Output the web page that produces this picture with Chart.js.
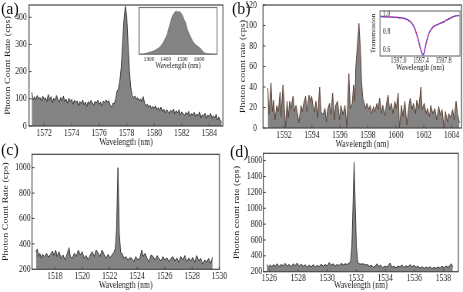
<!DOCTYPE html>
<html>
<head>
<meta charset="utf-8">
<script src="https://cdn.jsdelivr.net/npm/chart.js@4.4.1/dist/chart.umd.min.js"></script>
<style>
  html, body { margin: 0; padding: 0; background: #fff; }
  #page { position: relative; width: 463px; height: 292px; overflow: hidden; }
  canvas { position: absolute; transform-origin: 0 0; }
  .tag { position: absolute; font: 16px "Liberation Serif", serif; color: #111; line-height: 16px; }
</style>
</head>
<body>
<div id="page">
  <canvas id="chartA"></canvas>
  <canvas id="chartB"></canvas>
  <canvas id="chartC"></canvas>
  <canvas id="chartD"></canvas>
  <canvas id="insetA"></canvas>
  <canvas id="insetB"></canvas>
  <div class="tag" style="left:1px;top:1px">(a)</div>
  <div class="tag" style="left:232px;top:1px">(b)</div>
  <div class="tag" style="left:1px;top:142px">(c)</div>
  <div class="tag" style="left:230px;top:144px">(d)</div>
</div>
<script>
// ---- (a) spectrum near 1578 nm
var waveA = [
  1571.1,1571.2,1571.3,1571.4,1571.5,1571.6,1571.7,1571.8,1571.9,1572.0,
  1572.1,1572.2,1572.3,1572.4,1572.5,1572.6,1572.7,1572.8,1572.9,1573.0,
  1573.1,1573.2,1573.3,1573.4,1573.5,1573.6,1573.7,1573.8,1573.9,1574.0,
  1574.1,1574.2,1574.3,1574.4,1574.5,1574.6,1574.7,1574.8,1574.9,1575.0,
  1575.1,1575.2,1575.3,1575.4,1575.5,1575.6,1575.7,1575.8,1575.9,1576.0,
  1576.1,1576.2,1576.3,1576.4,1576.5,1576.6,1576.7,1576.8,1576.9,1577.0,
  1577.1,1577.2,1577.3,1577.4,1577.5,1577.6,1577.7,1577.8,1577.9,1578.0,
  1578.1,1578.2,1578.3,1578.4,1578.5,1578.6,1578.7,1578.8,1578.9,1579.0,
  1579.1,1579.2,1579.3,1579.4,1579.5,1579.6,1579.7,1579.8,1579.9,1580.0,
  1580.1,1580.2,1580.3,1580.4,1580.5,1580.6,1580.7,1580.8,1580.9,1581.0,
  1581.1,1581.2,1581.3,1581.4,1581.5,1581.6,1581.7,1581.8,1581.9,1582.0,
  1582.1,1582.2,1582.3,1582.4,1582.5,1582.6,1582.7,1582.8,1582.9,1583.0,
  1583.1,1583.2,1583.3,1583.4,1583.5,1583.6,1583.7,1583.8,1583.9,1584.0,
  1584.1,1584.2,1584.3,1584.4,1584.5,1584.6,1584.7,1584.8,1584.9
];
var countA = [
  124,95,108,96,112,99,105,92,110,98,
  104,90,116,95,108,86,102,94,112,97,
  88,105,92,110,89,99,84,103,91,98,
  80,95,87,92,75,90,82,96,78,88,
  72,90,80,94,86,76,91,84,95,79,
  88,74,92,85,96,88,93,76,70,84,
  82,100,128,138,165,215,300,390,440,405,
  300,200,140,112,105,110,98,104,92,100,
  90,108,84,74,80,70,76,64,72,66,
  74,60,68,56,70,52,62,48,60,54,
  46,58,50,62,44,56,48,60,42,52,
  46,38,50,42,54,36,46,40,50,34,
  44,38,52,30,42,36,48,28,40,34,
  46,26,38,30,44,22,34,20,14
];
var ticksA = [1572, 1574, 1576, 1578, 1580, 1582, 1584];
var yTicksA = [0, 100, 200, 300, 400];

// inset of (a): broad pump spectrum
var waveInA = [1240,1270,1300,1330,1360,1380,1400,1410,1420,1430,1440,1450,1460,1465,1472,1480,1490,1500,
  1510,1520,1530,1540,1550,1560,1570,1580,1590,1600,1610,1620,1630,1640,1660,1708];
var levelInA = [0,0.01,0.04,0.08,0.15,0.24,0.38,0.48,0.62,0.76,0.88,0.95,0.99,1.0,0.97,0.99,0.96,0.9,
  0.81,0.72,0.58,0.48,0.4,0.32,0.26,0.22,0.19,0.16,0.13,0.08,0.04,0.02,0.01,0];
var ticksInA = [1300, 1400, 1500, 1600];

// ---- (b) spectrum near 1597 nm
var waveB = [
  1590.84,1590.93,1591.07,1591.17,1591.26,1591.36,1591.48,1591.60,1591.72,1591.79,
  1591.93,1592.03,1592.12,1592.22,1592.31,1592.41,1592.50,1592.65,1592.74,1592.86,
  1592.98,1593.07,1593.22,1593.31,1593.41,1593.55,1593.64,1593.79,1593.88,1593.98,
  1594.07,1594.17,1594.29,1594.41,1594.55,1594.64,1594.79,1594.93,1595.03,1595.12,
  1595.26,1595.36,1595.48,1595.60,1595.69,1595.83,1595.98,1596.07,1596.22,1596.36,
  1596.50,1596.64,1596.74,1596.88,1596.98,1597.07,1597.14,1597.24,1597.36,1597.45,
  1597.55,1597.64,1597.84,1597.93,1598.07,1598.17,1598.26,1598.41,1598.50,1598.65,
  1598.74,1598.84,1598.98,1599.07,1599.22,1599.36,1599.45,1599.55,1599.69,1599.79,
  1599.93,1600.03,1600.17,1600.26,1600.41,1600.50,1600.65,1600.79,1600.93,1601.03,
  1601.17,1601.26,1601.41,1601.50,1601.65,1601.79,1601.88,1602.03,1602.17,1602.26,
  1602.41,1602.50,1602.65,1602.79,1602.93,1603.07,1603.17,1603.31,1603.45,1603.55,
  1603.69,1603.79,1603.93,1604.07,1604.17,1604.31,1604.41,1604.55
];
var countB = [
  39,13,44,16,27,8,22,16,35,11,
  42,19,1,26,10,26,19,31,16,22,
  13,5,22,16,24,31,16,32,26,31,
  22,16,26,10,40,16,13,19,6,18,
  24,13,34,8,22,26,8,22,13,22,
  1,53,19,24,42,26,60,78,102,81,
  45,29,19,24,18,22,14,21,16,24,
  18,29,14,22,12,26,32,18,24,14,
  26,19,34,0,22,11,26,3,21,29,
  18,24,14,27,19,40,18,24,14,19,
  11,22,14,19,8,21,13,18,0,16,
  6,14,10,18,8,26,14,5
];
var ticksB = [1592, 1594, 1596, 1598, 1600, 1602, 1604];
var yTicksB = [0, 20, 40, 60, 80, 100, 120];

// inset of (b): cavity transmission dip, measured and fit
var waveInB = [1596.68,1596.80,1596.95,1597.05,1597.15,1597.22,1597.28,1597.32,1597.36,1597.40,
  1597.44,1597.48,1597.52,1597.56,1597.62,1597.70,1597.80,1597.90,1598.00,1598.08];
var transInB = [0.97,0.965,0.96,0.955,0.94,0.91,0.85,0.78,0.70,0.60,
  0.55,0.65,0.75,0.81,0.86,0.885,0.91,0.945,0.975,0.98];
var fitInB = [0.972,0.968,0.962,0.952,0.935,0.905,0.855,0.785,0.69,0.6,
  0.56,0.64,0.74,0.81,0.855,0.885,0.915,0.95,0.975,0.982];
var ticksInB = [1597.0, 1597.4, 1597.8];
var yTicksInB = [0.6, 0.8, 1.0];

// ---- (c) spectrum near 1522.6 nm
var waveC = [
  1516.63,1516.72,1516.82,1516.91,1517.01,1517.11,1517.25,1517.40,1517.54,1517.69,
  1517.83,1517.93,1518.07,1518.17,1518.31,1518.46,1518.60,1518.75,1518.89,1519.04,
  1519.13,1519.28,1519.42,1519.57,1519.71,1519.85,1520.00,1520.14,1520.29,1520.43,
  1520.58,1520.72,1520.87,1521.01,1521.16,1521.30,1521.44,1521.59,1521.73,1521.88,
  1522.02,1522.17,1522.31,1522.41,1522.50,1522.60,1522.70,1522.80,1522.89,1523.04,
  1523.18,1523.32,1523.47,1523.61,1523.76,1523.90,1524.05,1524.19,1524.34,1524.43,
  1524.58,1524.72,1524.87,1525.01,1525.16,1525.30,1525.45,1525.59,1525.73,1525.88,
  1526.02,1526.17,1526.31,1526.46,1526.60,1526.75,1526.89,1527.04,1527.18,1527.32,
  1527.47,1527.61,1527.76,1527.90,1528.05,1528.19,1528.34,1528.48,1528.63,1528.77,
  1528.92,1529.06,1529.20,1529.35,1529.49
];
var countC = [
  334,360,300,326,286,318,300,326,295,318,
  344,308,352,300,339,286,313,273,318,370,
  300,286,326,300,352,313,339,286,308,273,
  313,339,300,352,326,300,352,318,286,318,
  290,313,334,365,520,1000,480,330,326,286,
  300,273,290,286,260,300,273,286,352,300,
  326,286,260,313,300,273,308,286,265,300,
  273,290,260,286,300,265,290,255,300,273,
  308,260,290,265,295,255,308,265,286,239,
  273,255,286,247,295
];
var ticksC = [1518, 1520, 1522, 1524, 1526, 1528, 1530];
var yTicksC = [200, 400, 600, 800, 1000];

// ---- (d) spectrum near 1532 nm
var waveD = [
  1525.84,1525.96,1526.07,1526.19,1526.30,1526.42,1526.55,1526.69,1526.83,1526.97,
  1527.11,1527.24,1527.38,1527.52,1527.66,1527.80,1527.93,1528.07,1528.21,1528.35,
  1528.49,1528.62,1528.76,1528.90,1529.04,1529.18,1529.31,1529.45,1529.59,1529.73,
  1529.86,1530.00,1530.14,1530.28,1530.42,1530.55,1530.69,1530.83,1530.97,1531.11,
  1531.24,1531.38,1531.52,1531.61,1531.70,1531.78,1531.85,1531.93,1532.01,1532.10,
  1532.21,1532.35,1532.49,1532.62,1532.76,1532.90,1533.04,1533.18,1533.31,1533.45,
  1533.54,1533.68,1533.82,1533.96,1534.10,1534.23,1534.33,1534.46,1534.60,1534.74,
  1534.88,1535.01,1535.15,1535.29,1535.43,1535.57,1535.70,1535.84,1535.98,1536.12,
  1536.26,1536.39,1536.53,1536.67,1536.81,1536.95,1537.08,1537.22,1537.36,1537.50,
  1537.64,1537.77,1537.91,1538.05,1538.19,1538.32,1538.46,1538.55,1538.65
];
var countD = [
  290,260,285,262,290,270,300,265,290,275,
  305,268,292,262,300,275,310,270,295,265,
  288,255,282,262,290,258,280,265,295,268,
  290,272,315,280,300,270,292,278,305,285,
  300,290,310,330,520,1050,1580,1050,520,320,
  300,295,300,285,290,268,280,255,272,300,
  262,285,250,270,258,282,310,255,270,248,
  272,260,285,252,275,258,290,262,280,255,
  270,245,262,240,258,244,262,238,255,242,
  260,245,268,250,272,255,280,300,258
];
var ticksD = [1526, 1528, 1530, 1532, 1534, 1536, 1538];
var yTicksD = [200, 400, 600, 800, 1000, 1200, 1400, 1600];

var K = 0.77; // the printed figure is squeezed sideways
var SERIF = '"Liberation Serif", "Times New Roman", serif';

Chart.defaults.animation = false;
Chart.defaults.font.family = SERIF;
Chart.defaults.color = '#1a1a1a';

// box around the plot area, small inward ticks, and a white ground for the insets
Chart.register({
  id: 'frame',
  beforeDraw: function (chart, args, opts) {
    if (!opts.bg) return;
    var a = chart.chartArea;
    chart.ctx.fillStyle = opts.bg;
    chart.ctx.fillRect(a.left, a.top, a.right - a.left, a.bottom - a.top);
  },
  afterDatasetsDraw: function (chart, args, opts) {
    var a = chart.chartArea, ctx = chart.ctx;
    ctx.save();
    ctx.strokeStyle = opts.color || '#444';
    ctx.lineWidth = 1.2;
    ctx.strokeRect(a.left, a.top, a.right - a.left, a.bottom - a.top);
    if (opts.ticks) {
      ctx.lineWidth = 1;
      ctx.beginPath();
      chart.scales.x.ticks.forEach(function (t) {
        var px = chart.scales.x.getPixelForValue(t.value);
        ctx.moveTo(px, a.bottom); ctx.lineTo(px, a.bottom - 2.5);
      });
      chart.scales.y.ticks.forEach(function (t) {
        var py = chart.scales.y.getPixelForValue(t.value);
        ctx.moveTo(a.left, py); ctx.lineTo(a.left + 2.5 / K, py);
      });
      ctx.stroke();
    }
    ctx.restore();
  }
});

// box = canvas rect on the page, area = wanted plot frame on the page
function place(id, box, area) {
  var cv = document.getElementById(id);
  var w = Math.round(box[2] / K);
  cv.width = w;
  cv.height = box[3];
  cv.style.left = box[0] + 'px';
  cv.style.top = box[1] + 'px';
  cv.style.transform = 'scaleX(' + K + ')';
  return {
    cv: cv,
    left: (area[0] - box[0]) / K,
    right: w - (area[2] - box[0]) / K,
    top: area[1] - box[1],
    bottom: box[1] + box[3] - area[3]
  };
}

function pts(xs, ys) {
  return xs.map(function (x, i) { return {x: x, y: ys[i]}; });
}

var NOGRID = {display: false, drawTicks: false};

function spectrum(id, box, area, o) {
  var p = place(id, box, area);
  return new Chart(p.cv, {
    type: 'line',
    data: {
      datasets: [{
        data: pts(o.x, o.y),
        borderColor: o.line,
        borderWidth: 1,
        backgroundColor: '#838383',
        fill: 'start',
        pointRadius: 0,
        tension: 0
      }]
    },
    options: {
      responsive: false,
      layout: {padding: {left: 0, top: p.top, right: p.right, bottom: 0}},
      plugins: {legend: {display: false}, tooltip: {enabled: false}, frame: {color: '#444', ticks: true}},
      scales: {
        x: {
          type: 'linear', min: o.xMin, max: o.xMax,
          afterBuildTicks: function (s) { s.ticks = o.xTicks.map(function (v) { return {value: v}; }); },
          afterFit: function (s) { s.height = p.bottom; s.paddingLeft = 0; s.paddingRight = 0; },
          grid: NOGRID,
          border: {display: false},
          ticks: {autoSkip: false, maxRotation: 0, padding: 1, font: {size: 10},
            callback: function (v) { return String(v); }},
          title: {display: true, text: 'Wavelength (nm)', font: {size: 10},
            padding: {top: 0, bottom: o.xTitlePad}}
        },
        y: {
          min: o.yMin, max: o.yMax,
          afterBuildTicks: function (s) { s.ticks = o.yTicks.map(function (v) { return {value: v}; }); },
          afterFit: function (s) { s.width = p.left; s.paddingTop = 0; s.paddingBottom = 0; },
          grid: NOGRID,
          border: {display: false},
          ticks: {padding: o.yTickPad, font: {size: 10, lineHeight: 1},
            callback: function (v) { return String(v); }},
          title: {display: true, text: o.yTitle, font: {size: 10},
            padding: {top: o.yTitlePad, bottom: 0}}
        }
      }
    }
  });
}

spectrum('chartA', [0, 0, 232, 150], [29, 5, 223, 126], {
  x: waveA, y: countA, xMin: 1570.9, xMax: 1585.0, xTicks: ticksA,
  yMin: 0, yMax: 445, yTicks: yTicksA, line: '#333',
  yTitle: 'Photon Count Rate (cps)', yTitlePad: 4.8, yTickPad: 3, xTitlePad: 2
});
spectrum('chartB', [232, 0, 231, 150], [263, 5, 461.5, 128], {
  x: waveB, y: countB, xMin: 1590.5, xMax: 1604.7, xTicks: ticksB,
  yMin: 0, yMax: 120, yTicks: yTicksB, line: '#5a4034',
  yTitle: 'Photon count rate (cps)', yTitlePad: 8.7, yTickPad: 8, xTitlePad: 0
});
spectrum('chartC', [0, 146, 232, 146], [32, 154.3, 219.5, 269.3], {
  x: waveC, y: countC, xMin: 1516.34, xMax: 1530, xTicks: ticksC,
  yMin: 200, yMax: 1105, yTicks: yTicksC, line: '#333',
  yTitle: 'Photon Count Rate (cps)', yTitlePad: 1.8, yTickPad: 1.7, xTitlePad: 0.3
});
spectrum('chartD', [232, 146, 231, 146], [263.3, 153.3, 458.3, 271.7], {
  x: waveD, y: countD, xMin: 1525.6, xMax: 1539.03, xTicks: ticksD,
  yMin: 200, yMax: 1693, yTicks: yTicksD, line: '#333',
  yTitle: 'Photon count rate (cps)', yTitlePad: 0.3, yTickPad: 1.3, xTitlePad: 0.3
});

// inset (a)
(function () {
  var p = place('insetA', [128, 0, 92, 72], [139, 7.5, 217, 54.3]);
  new Chart(p.cv, {
    type: 'line',
    data: {datasets: [{data: pts(waveInA, levelInA), borderColor: '#6a6a6a', borderWidth: 0.8,
      backgroundColor: '#838383', fill: 'start', pointRadius: 0, tension: 0.2}]},
    options: {
      responsive: false,
      layout: {padding: {left: p.left, top: p.top, right: p.right, bottom: 0}},
      plugins: {legend: {display: false}, tooltip: {enabled: false}, frame: {color: '#777', bg: '#fff'}},
      scales: {
        x: {
          type: 'linear', min: 1240, max: 1708,
          afterBuildTicks: function (s) { s.ticks = ticksInA.map(function (v) { return {value: v}; }); },
          afterFit: function (s) { s.height = p.bottom; s.paddingLeft = 0; s.paddingRight = 0; },
          grid: NOGRID, border: {display: false},
          ticks: {autoSkip: false, maxRotation: 0, padding: 1, font: {size: 7},
            callback: function (v) { return String(v); }},
          title: {display: true, text: 'Wavelength (nm)', font: {size: 8.5}, padding: {top: 0, bottom: 0.9}}
        },
        y: {display: false, min: 0, max: 1.08}
      }
    }
  });
})();

// inset (b)
(function () {
  var p = place('insetB', [366, 0, 96, 74], [380, 11, 460, 56]);
  new Chart(p.cv, {
    type: 'line',
    data: {datasets: [
      {data: pts(waveInB, fitInB), borderColor: 'rgb(232,45,70)', borderWidth: 1.3,
        borderDash: [2, 2], pointRadius: 0, tension: 0.35, fill: false},
      {data: pts(waveInB, transInB), borderColor: 'rgb(70,70,250)', borderWidth: 1.3,
        pointRadius: 0, tension: 0.35, fill: false}
    ]},
    options: {
      responsive: false,
      layout: {padding: {left: 0, top: p.top, right: p.right, bottom: 0}},
      plugins: {legend: {display: false}, tooltip: {enabled: false}, frame: {color: '#777', bg: '#fff'}},
      scales: {
        x: {
          type: 'linear', min: 1596.671, max: 1598.093,
          afterBuildTicks: function (s) { s.ticks = ticksInB.map(function (v) { return {value: v}; }); },
          afterFit: function (s) { s.height = p.bottom; s.paddingLeft = 0; s.paddingRight = 0; },
          grid: NOGRID, border: {display: false},
          ticks: {autoSkip: false, maxRotation: 0, padding: 1, font: {size: 7.5},
            callback: function (v) { return v.toFixed(1); }},
          title: {display: true, text: 'Wavelength (nm)', font: {size: 9}, padding: {top: 0, bottom: 0.6}}
        },
        y: {
          min: 0.54, max: 1.03,
          afterBuildTicks: function (s) { s.ticks = yTicksInB.map(function (v) { return {value: v}; }); },
          afterFit: function (s) { s.width = p.left; s.paddingTop = 0; s.paddingBottom = 0; },
          grid: NOGRID, border: {display: false},
          ticks: {mirror: true, padding: 3.9, font: {size: 7.5, lineHeight: 1},
            callback: function (v) { return v.toFixed(1); }},
          title: {display: true, text: 'Transmission', font: {size: 7.5}, padding: {top: 5.9, bottom: 0}}
        }
      }
    }
  });
})();
</script>
</body>
</html>
